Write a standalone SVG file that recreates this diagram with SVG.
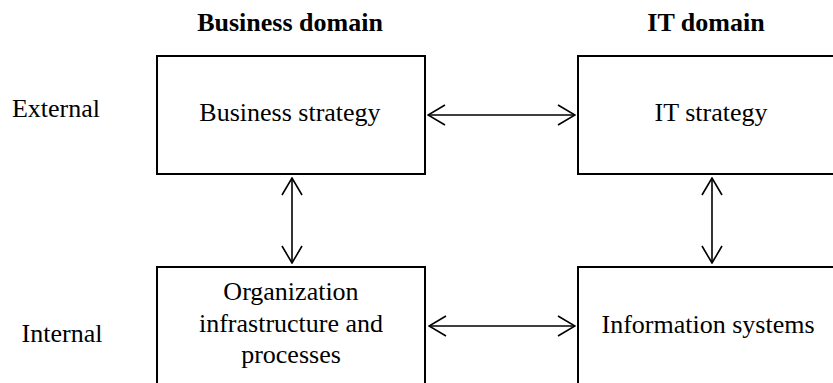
<svg xmlns="http://www.w3.org/2000/svg" width="833" height="383" viewBox="0 0 833 383">
<style>
text{font-family:"Liberation Serif","Times New Roman",serif;font-size:26px;fill:#000;text-anchor:middle}
.h{font-weight:bold}
.box{fill:#fff;stroke:#000;stroke-width:2}
.c{stroke:#000;stroke-width:1.6;fill:none}
</style>
<defs>
<marker id="ah" viewBox="0 0 20 24" refX="19" refY="12" markerWidth="20" markerHeight="24" markerUnits="userSpaceOnUse" orient="auto-start-reverse">
<path d="M2,2 L19,12 L2,22" fill="none" stroke="#000" stroke-width="1.6"/>
</marker>
</defs>
<g id="labels">
<text class="h" x="290" y="31">Business domain</text>
<text class="h" x="706" y="31">IT domain</text>
<text x="56" y="117">External</text>
<text x="62" y="342">Internal</text>
</g>
<g id="business-strategy">
<rect class="box" x="157" y="56" width="268" height="118"/>
<text x="290" y="121">Business strategy</text>
</g>
<g id="it-strategy">
<rect class="box" x="578" y="56" width="268" height="118"/>
<text x="711" y="121">IT strategy</text>
</g>
<g id="organization">
<rect class="box" x="157" y="267" width="268" height="118"/>
<text x="291" y="300">Organization</text>
<text x="291" y="332">infrastructure and</text>
<text x="291" y="363">processes</text>
</g>
<g id="information-systems">
<rect class="box" x="578" y="267" width="268" height="118"/>
<text x="708" y="333">Information systems</text>
</g>
<g id="connectors">
<line class="c" x1="428" y1="115" x2="575" y2="115" marker-start="url(#ah)" marker-end="url(#ah)"/>
<line class="c" x1="429" y1="326" x2="575" y2="326" marker-start="url(#ah)" marker-end="url(#ah)"/>
<line class="c" x1="292" y1="178" x2="292" y2="263" marker-start="url(#ah)" marker-end="url(#ah)"/>
<line class="c" x1="712" y1="178" x2="712" y2="263" marker-start="url(#ah)" marker-end="url(#ah)"/>
</g>
</svg>
